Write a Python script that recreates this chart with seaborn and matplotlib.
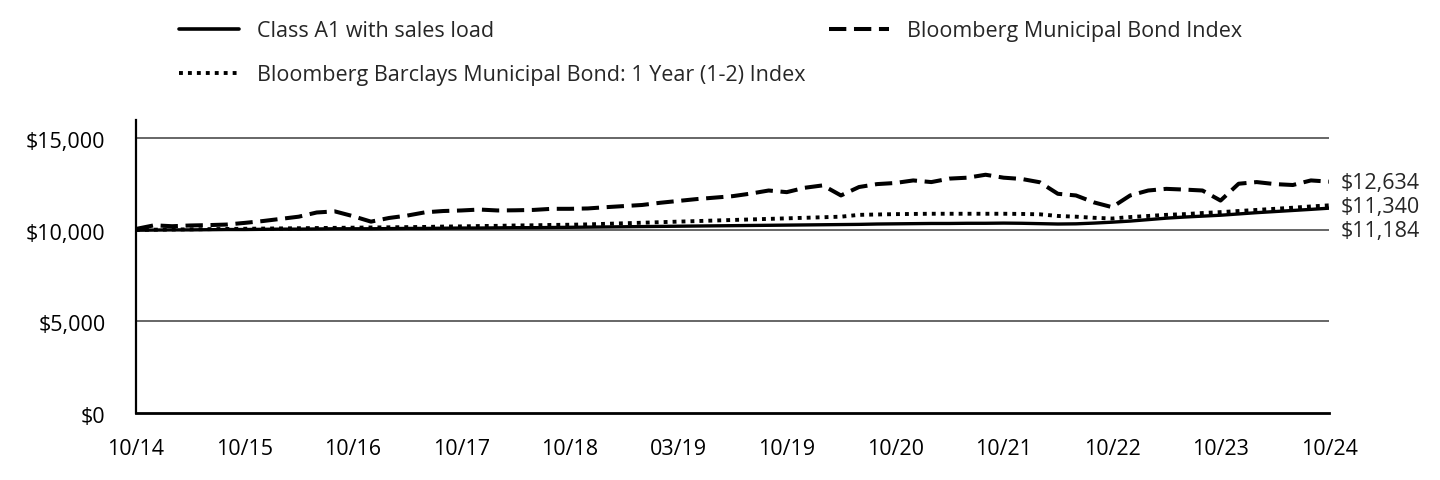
import matplotlib
matplotlib.use("Agg")
import matplotlib.pyplot as plt
import matplotlib.transforms as mtransforms
import seaborn as sns
import pandas as pd
from matplotlib.lines import Line2D

# data (6 points between each labelled tick)
tick_labels = ["10/14", "10/15", "10/16", "10/17", "10/18", "03/19",
               "10/19", "10/20", "10/21", "10/22", "10/23", "10/24"]
steps_per_tick = 6

class_a1 = [9980, 9990, 10000, 10000, 10010, 10020, 10020, 10030, 10040, 10040,
            10050, 10060, 10060, 10060, 10070, 10080, 10080, 10090, 10100, 10100,
            10110, 10120, 10120, 10130, 10140, 10150, 10160, 10170, 10180, 10190,
            10200, 10210, 10220, 10230, 10240, 10250, 10260, 10270, 10280, 10290,
            10300, 10320, 10330, 10340, 10350, 10350, 10360, 10360, 10370, 10360,
            10340, 10320, 10330, 10370, 10420, 10480, 10560, 10640, 10700, 10750,
            10800, 10870, 10940, 11000, 11060, 11120, 11184]

muni_index = [10050, 10250, 10200, 10240, 10260, 10290, 10380, 10480, 10600, 10720,
              10950, 11010, 10750, 10450, 10650, 10780, 10960, 11030, 11060, 11110,
              11060, 11070, 11090, 11150, 11150, 11170, 11240, 11300, 11360, 11480,
              11580, 11680, 11760, 11840, 11980, 12150, 12060, 12300, 12430, 11880,
              12340, 12500, 12560, 12700, 12610, 12800, 12850, 13010, 12850, 12780,
              12600, 11970, 11880, 11500, 11240, 11880, 12150, 12240, 12200, 12150,
              11600, 12520, 12610, 12500, 12450, 12700, 12634]

one_year_index = [10000, 10010, 10020, 10030, 10040, 10050, 10060, 10070, 10080, 10090,
                  10100, 10110, 10120, 10130, 10140, 10150, 10160, 10180, 10190, 10210,
                  10220, 10240, 10250, 10270, 10280, 10300, 10330, 10360, 10390, 10420,
                  10450, 10480, 10510, 10540, 10570, 10600, 10630, 10660, 10690, 10720,
                  10820, 10840, 10860, 10870, 10880, 10880, 10880, 10880, 10880, 10870,
                  10850, 10760, 10720, 10660, 10620, 10700, 10760, 10820, 10860, 10920,
                  10970, 11030, 11090, 11150, 11210, 11280, 11340]

names = ["Class A1 with sales load",
         "Bloomberg Barclays Municipal Bond: 1 Year (1-2) Index",
         "Bloomberg Municipal Bond Index"]
series = [class_a1, one_year_index, muni_index]

rows = []
for name, vals in zip(names, series):
    for i, v in enumerate(vals):
        rows.append({"period": i, "value": v, "series": name})
df = pd.DataFrame(rows)

sns.set_style("white")
plt.rcParams["font.family"] = ["Open Sans", "DejaVu Sans"]
fs = 15.5

fig = plt.figure(figsize=(14.4, 4.8), dpi=100)
ax = fig.add_axes([136 / 1440, 1 - 413 / 480, (1329 - 136) / 1440, (413 - 120) / 480])

dash_map = {names[0]: "", names[1]: (1, 1.3), names[2]: (4.3, 1.9)}
width_map = {names[0]: 2.4, names[1]: 2.8, names[2]: 2.9}

for name in names:
    sub = df[df["series"] == name]
    sns.lineplot(data=sub, x="period", y="value", color="black", ax=ax,
                 lw=width_map[name], zorder=3)
    line = ax.lines[-1]
    if dash_map[name]:
        line.set_dashes(dash_map[name])

n = len(class_a1) - 1
ax.set_xlim(0, n)
ax.set_ylim(0, 16000)
ax.set_xticks(range(0, n + 1, steps_per_tick))
ax.set_xticklabels(tick_labels)
ax.set_yticks([0, 5000, 10000, 15000])
ax.set_yticklabels([f"${v:,.0f}" for v in [0, 5000, 10000, 15000]])
ax.tick_params(axis="both", length=0, labelsize=fs, colors="black")
ax.tick_params(axis="x", pad=19)
ax.tick_params(axis="y", pad=22)
ax.set_xlabel("")
ax.set_ylabel("")

# nudge y tick labels down a touch
shift = mtransforms.ScaledTranslation(0, -2 / 100, fig.dpi_scale_trans)
for lab in ax.get_yticklabels():
    lab.set_transform(lab.get_transform() + shift)

for v in [5000, 10000, 15000]:
    ax.axhline(v, color="#4d4d4d", lw=1.2, zorder=1)

sns.despine(ax=ax, top=True, right=True)
ax.spines["left"].set_color("black")
ax.spines["left"].set_linewidth(1.6)
ax.spines["bottom"].set_color("black")
ax.spines["bottom"].set_linewidth(2.0)

# end value labels, pushed apart so they don't overlap
finals = sorted([vals[-1] for vals in series], reverse=True)
min_gap = 24
prev_y = None
for val in finals:
    disp_y = ax.transData.transform((n, val))[1]
    if prev_y is not None and prev_y - disp_y < min_gap:
        disp_y = prev_y - min_gap
    prev_y = disp_y
    fig.text(1341 / 1440, (disp_y - 2) / 480, f"${val:,.0f}", ha="left", va="center",
             fontsize=fs)

handles = [
    Line2D([], [], color="black", lw=2.6),
    Line2D([], [], color="black", lw=2.8, dashes=(1, 1.3)),
    Line2D([], [], color="black", lw=2.9, dashes=(4.3, 1.9)),
]
fig.legend(handles, names, loc="upper left", bbox_to_anchor=(179 / 1440, 1 - 21 / 480),
           ncol=2, frameon=False, fontsize=fs, handlelength=2.8, handletextpad=0.84,
           columnspacing=1.07, labelspacing=1.06, borderpad=0, borderaxespad=0)

fig.savefig("out.png", dpi=100)
